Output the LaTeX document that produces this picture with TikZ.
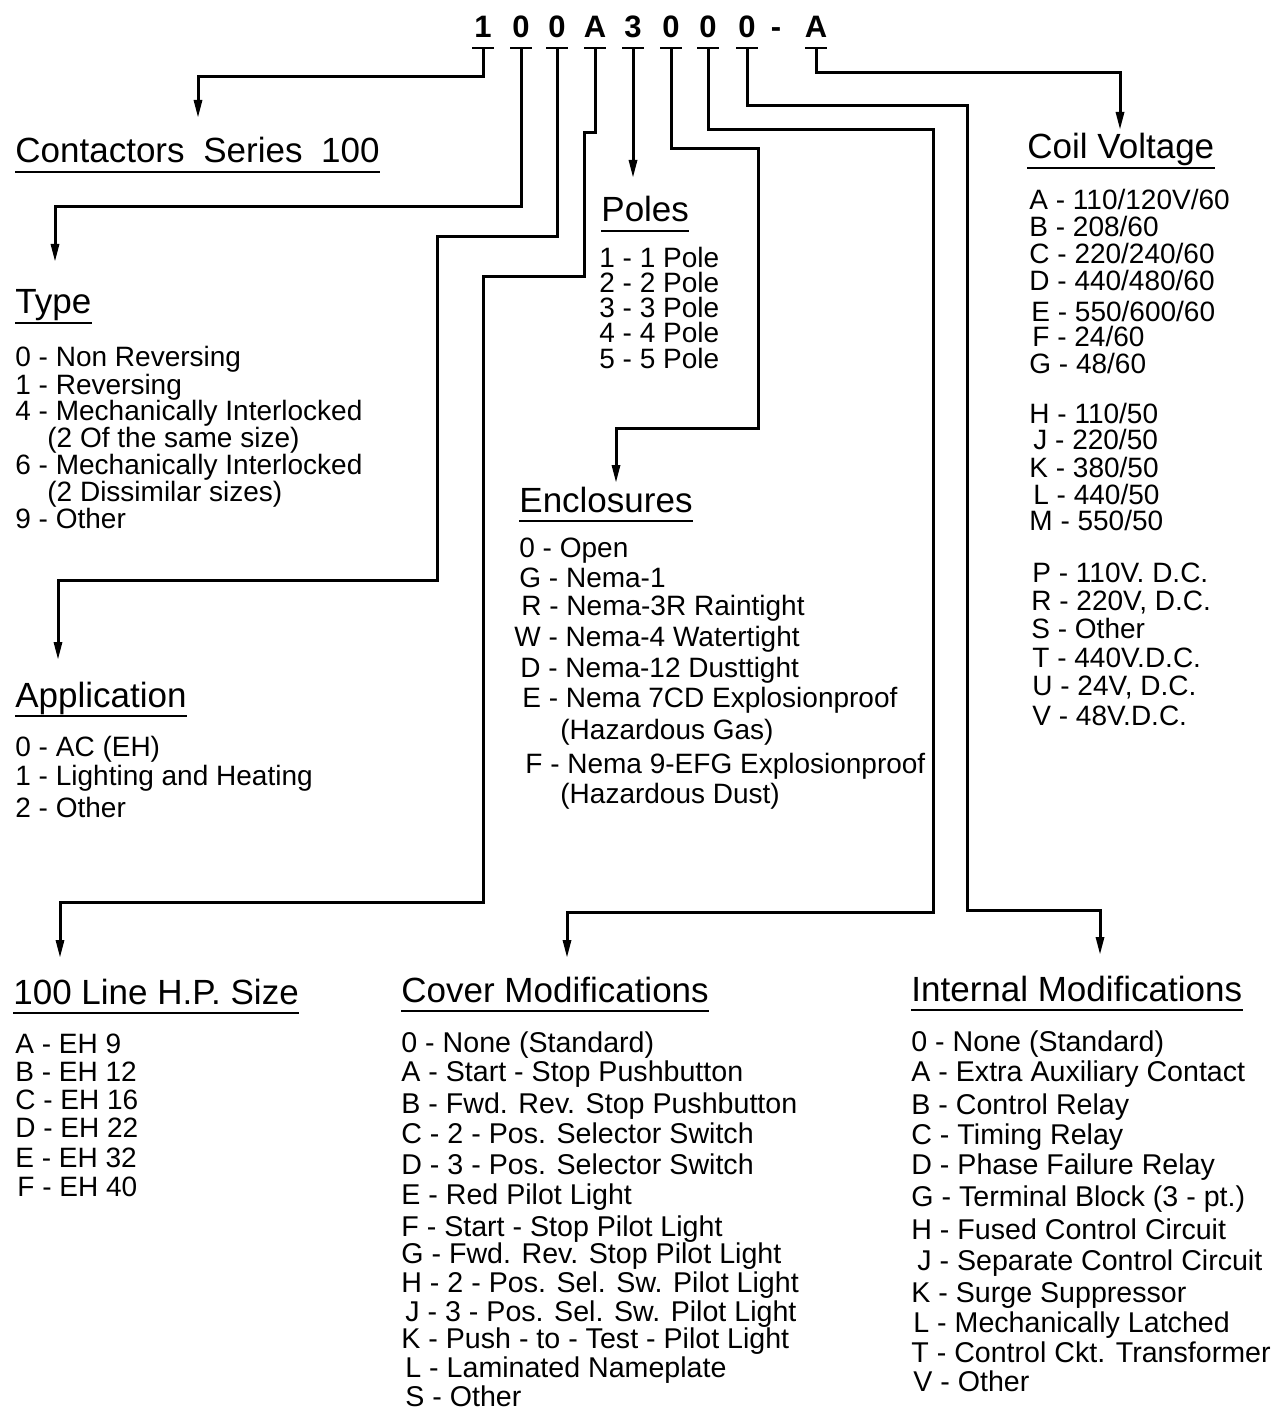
\documentclass[tikz,border=0pt]{standalone}
\usepackage{fontspec}
\setmainfont{Liberation Sans}
\usetikzlibrary{arrows.meta}
\begin{document}
\begin{tikzpicture}[x=0.5pt,y=-0.5pt,
 wire/.style={line width=1.5pt, line join=miter},
 arr/.style={wire,-{Triangle[width=4pt,length=9pt]}},
 tick/.style={line width=1.2pt},
 codech/.style={font=\fontsize{15.5}{16}\selectfont\bfseries, inner sep=0, anchor=base},
 head/.style={font=\fontsize{17.5}{20}\selectfont, inner sep=0, anchor=base west},
 item/.style={font=\fontsize{14}{16}\selectfont, inner sep=0, anchor=base west, text height=9pt, text depth=0pt},
 itemw/.style={item, font=\fontsize{14.3}{16}\selectfont},
 uline/.style={line width=1pt},
]
\useasboundingbox (0,0) rectangle (1284,1411);

% ---- code characters ----
\node[codech] (c1) at (483,38) {1};
\node[codech] (c2) at (521,38) {0};
\node[codech] (c3) at (557,38) {0};
\node[codech] (c4) at (595,38) {A};
\node[codech] (c5) at (633,38) {3};
\node[codech] (c6) at (671,38) {0};
\node[codech] (c7) at (708,38) {0};
\node[codech] (c8) at (747,38) {0};
\node[codech] (c9) at (776,38) {-};
\node[codech] (c10) at (816,38) {A};

\foreach \i/\x in {1/483,2/521,3/557,4/595,5/633,6/671,7/708,8/747,10/816}{
  \coordinate (t\i) at (\x,48);
  \draw[tick] (t\i) ++(-11,0) -- ++(22,0);
}

% ---- headings ----
\node[head] (hCont) at (15,163) {Contactors\hspace{4.5pt} Series\hspace{4.5pt} 100};
\node[head] (hType) at (15,314) {Type};
\node[head] (hApp) at (15,707) {Application};
\node[head] (hHP) at (13,1004) {100 Line H.P. Size};
\node[head] (hPoles) at (601,222) {Poles};
\node[head] (hEnc) at (519,512) {Enclosures};
\node[head] (hCoil) at (1027,159) {Coil Voltage};
\node[head] (hCover) at (401,1002) {Cover Modifications};
\node[head] (hInt) at (911,1001) {Internal Modifications};
\foreach \h in {hCont,hType,hApp,hHP,hPoles,hEnc,hCoil,hCover,hInt}{
  \draw[uline] ([yshift=-4.5pt]\h.base west) -- ([yshift=-4.5pt]\h.base east);
}

% ---- arrow tips ----
\coordinate (a1) at (198,118);
\coordinate (a2) at (55,262);
\coordinate (a3) at (58,660);
\coordinate (a4) at (60,958);
\coordinate (a5) at (633,178);
\coordinate (a6) at (616,483);
\coordinate (a7) at (567,958);
\coordinate (a8) at (1100,955);
\coordinate (a10) at (1120,130);

% ---- connectors ----
\draw[arr] (t1) -- ++(0,29) -| (a1);
\draw[arr] (t2) -- ++(0,159) -| (a2);
\draw[arr] (t3) -- ++(0,189) -- ++(-120,0) -- ++(0,343) -| (a3);
\draw[arr] (t4) -- ++(0,85) -- ++(-11,0) -- ++(0,144) -- ++(-101,0) -- ++(0,625) -| (a4);
\draw[arr] (t5) -- (a5);
\draw[arr] (t6) -- ++(0,101) -- ++(87,0) -- ++(0,279) -| (a6);
\draw[arr] (t7) -- ++(0,82) -- ++(225,0) -- ++(0,782) -| (a7);
\draw[arr] (t8) -- ++(0,58) -- ++(220,0) -- ++(0,804) -| (a8);
\draw[arr] (t10) -- ++(0,25) -| (a10);

% ---- Type ----
\node[item] (ty1) at (15,367) {0 - Non Reversing};
\node[item] (ty2) at (15,394) {1 - Reversing};
\node[item] (ty3) at (15,421) {4 - Mechanically Interlocked};
\node[item] (ty4) at (47,447) {(2 Of the same size)};
\node[item] (ty5) at (15,474) {6 - Mechanically Interlocked};
\node[item] (ty6) at (47,501) {(2 Dissimilar sizes)};
\node[item] (ty7) at (15,528) {9 - Other};

% ---- Application ----
\node[item] (ap1) at (15,756) {0 - AC (EH)};
\node[item] (ap2) at (15,785) {1 - Lighting and Heating};
\node[item] (ap3) at (15,817) {2 - Other};

% ---- HP size ----
\node[item] (hp1) at (15,1053) {A - EH 9};
\node[item] (hp2) at (15,1081) {B - EH 12};
\node[item] (hp3) at (15,1109) {C - EH 16};
\node[item] (hp4) at (15,1137) {D - EH 22};
\node[item] (hp5) at (15,1167) {E - EH 32};
\node[item] (hp6) at (17,1196) {F - EH 40};

% ---- Poles ----
\node[item] (po1) at (599,268) {1 - 1 Pole};
\node[item] (po2) at (599,293) {2 - 2 Pole};
\node[item] (po3) at (599,318) {3 - 3 Pole};
\node[item] (po4) at (599,343) {4 - 4 Pole};
\node[item] (po5) at (599,369) {5 - 5 Pole};

% ---- Enclosures ----
\node[item] (en1) at (519,557) {0 - Open};
\node[item] (en2) at (519,587) {G - Nema-1};
\node[item] (en3) at (521,615) {R - Nema-3R Raintight};
\node[item] (en4) at (514,646) {W - Nema-4 Watertight};
\node[item] (en5) at (520,677) {D - Nema-12 Dusttight};
\node[item] (en6) at (522,707) {E - Nema 7CD Explosionproof};
\node[item] (en7) at (560,739) {(Hazardous Gas)};
\node[item] (en8) at (525,773) {F - Nema 9-EFG Explosionproof};
\node[item] (en9) at (560,803) {(Hazardous Dust)};

% ---- Coil Voltage ----
\node[item] (cv1) at (1029,210) {A - 110/120V/60};
\node[item] (cv2) at (1029,237) {B - 208/60};
\node[item] (cv3) at (1029,264) {C - 220/240/60};
\node[item] (cv4) at (1029,291) {D - 440/480/60};
\node[item] (cv5) at (1031,322) {E - 550/600/60};
\node[item] (cv6) at (1032,347) {F - 24/60};
\node[item] (cv7) at (1029,374) {G - 48/60};
\node[item] (cv8) at (1029,423) {H - 110/50};
\node[item] (cv9) at (1033,450) {J - 220/50};
\node[item] (cv10) at (1029,477) {K - 380/50};
\node[item] (cv11) at (1033,504) {L - 440/50};
\node[item] (cv12) at (1029,530) {M - 550/50};
\node[item] (cv13) at (1032,582) {P - 110V. D.C.};
\node[item] (cv14) at (1031,610) {R - 220V, D.C.};
\node[item] (cv15) at (1031,638) {S - Other};
\node[item] (cv16) at (1032,667) {T - 440V.D.C.};
\node[item] (cv17) at (1032,695) {U - 24V, D.C.};
\node[item] (cv18) at (1032,725) {V - 48V.D.C.};

% ---- Cover Modifications ----
\node[itemw] (co1) at (401,1052) {0 - None (Standard)};
\node[itemw] (co2) at (401,1081) {A - Start - Stop Pushbutton};
\node[itemw] (co3) at (401,1113) {B - Fwd. Rev. Stop Pushbutton};
\node[itemw] (co4) at (401,1143) {C - 2 - Pos. Selector Switch};
\node[itemw] (co5) at (401,1174) {D - 3 - Pos. Selector Switch};
\node[itemw] (co6) at (401,1204) {E - Red Pilot Light};
\node[itemw] (co7) at (401,1236) {F - Start - Stop Pilot Light};
\node[itemw] (co8) at (401,1263) {G - Fwd. Rev. Stop Pilot Light};
\node[itemw] (co9) at (401,1292) {H - 2 - Pos. Sel. Sw. Pilot Light};
\node[itemw] (co10) at (405,1321) {J - 3 - Pos. Sel. Sw. Pilot Light};
\node[itemw] (co11) at (401,1348) {K - Push - to - Test - Pilot Light};
\node[itemw] (co12) at (405,1377) {L - Laminated Nameplate};
\node[itemw] (co13) at (405,1406) {S - Other};

% ---- Internal Modifications ----
\node[itemw] (im1) at (911,1051) {0 - None (Standard)};
\node[itemw] (im2) at (911,1081) {A - Extra Auxiliary Contact};
\node[itemw] (im3) at (911,1114) {B - Control Relay};
\node[itemw] (im4) at (911,1144) {C - Timing Relay};
\node[itemw] (im5) at (911,1174) {D - Phase Failure Relay};
\node[itemw] (im6) at (911,1206) {G - Terminal Block (3 - pt.)};
\node[itemw] (im7) at (911,1239) {H - Fused Control Circuit};
\node[itemw] (im8) at (917,1270) {J - Separate Control Circuit};
\node[itemw] (im9) at (911,1302) {K - Surge Suppressor};
\node[itemw] (im10) at (913,1332) {L - Mechanically Latched};
\node[itemw] (im11) at (911,1362) {T - Control Ckt. Transformer};
\node[itemw] (im12) at (913,1391) {V - Other};
\end{tikzpicture}
\end{document}
